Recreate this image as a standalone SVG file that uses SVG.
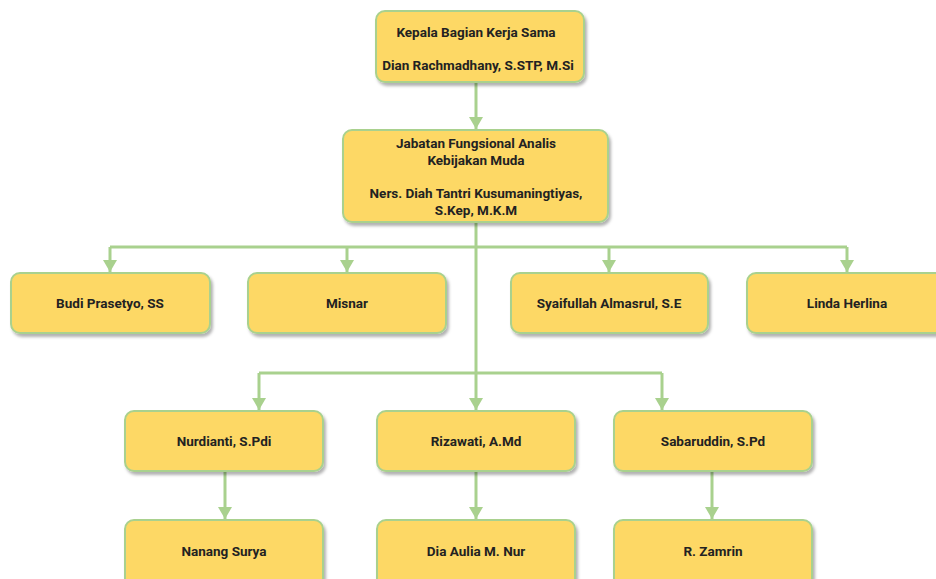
<svg xmlns="http://www.w3.org/2000/svg" width="936" height="579" viewBox="0 0 936 579">
<style>
.box{fill:#fdd865;stroke:#a9d18e;stroke-width:2;filter:url(#sh)}
.t{font-family:Roboto,"Liberation Sans",sans-serif;font-weight:bold;font-size:13.5px;fill:#222;text-anchor:middle}
.c{fill:none;stroke:#a9d18e;stroke-width:3}
</style>
<defs>
<filter id="sh" x="-10%" y="-10%" width="130%" height="140%">
<feDropShadow dx="2" dy="3" stdDeviation="1.5" flood-color="#000" flood-opacity="0.3"/>
</filter>
<marker id="ar" viewBox="0 0 12 14" refX="12" refY="7" markerWidth="12" markerHeight="14" markerUnits="userSpaceOnUse" orient="auto">
<path d="M0,0 L12,7 L0,14 z" fill="#a9d18e"/>
</marker>
</defs>
<rect width="936" height="579" fill="#fff"/>
<g id="connectors">
<path class="c" d="M476,82 V129" marker-end="url(#ar)"/>
<path class="c" d="M476,222 V373"/>
<path class="c" d="M110,247 H847"/>
<path class="c" d="M110,247 V272" marker-end="url(#ar)"/>
<path class="c" d="M347,247 V272" marker-end="url(#ar)"/>
<path class="c" d="M609,247 V272" marker-end="url(#ar)"/>
<path class="c" d="M847,247 V272" marker-end="url(#ar)"/>
<path class="c" d="M259,373 H662"/>
<path class="c" d="M259,373 V410" marker-end="url(#ar)"/>
<path class="c" d="M476,373 V410" marker-end="url(#ar)"/>
<path class="c" d="M662,373 V410" marker-end="url(#ar)"/>
<path class="c" d="M225,471 V519" marker-end="url(#ar)"/>
<path class="c" d="M476,471 V519" marker-end="url(#ar)"/>
<path class="c" d="M712,471 V519" marker-end="url(#ar)"/>
</g>
<g id="kepala"><rect class="box" x="376" y="11" width="208" height="71" rx="9"/>
<text class="t" x="476" y="37">Kepala Bagian Kerja Sama</text>
<text class="t" x="478" y="70">Dian Rachmadhany, S.STP, M.Si</text></g>
<g id="jabatan"><rect class="box" x="343" y="130" width="265" height="92" rx="9"/>
<text class="t" x="476" y="148">Jabatan Fungsional Analis</text>
<text class="t" x="476" y="165">Kebijakan Muda</text>
<text class="t" x="476" y="198">Ners. Diah Tantri Kusumaningtiyas,</text>
<text class="t" x="476" y="215">S.Kep, M.K.M</text></g>
<g id="budi"><rect class="box" x="11" y="273" width="199" height="60" rx="9"/>
<text class="t" x="110" y="308">Budi Prasetyo, SS</text></g>
<g id="misnar"><rect class="box" x="248" y="273" width="198" height="60" rx="9"/>
<text class="t" x="347" y="308">Misnar</text></g>
<g id="syaifullah"><rect class="box" x="511" y="273" width="197" height="60" rx="9"/>
<text class="t" x="609" y="308">Syaifullah Almasrul, S.E</text></g>
<g id="linda"><rect class="box" x="747" y="273" width="200" height="60" rx="9"/>
<text class="t" x="847" y="308">Linda Herlina</text></g>
<g id="nurdianti"><rect class="box" x="125" y="411" width="198" height="60" rx="9"/>
<text class="t" x="224" y="446">Nurdianti, S.Pdi</text></g>
<g id="rizawati"><rect class="box" x="377" y="411" width="198" height="60" rx="9"/>
<text class="t" x="476" y="446">Rizawati, A.Md</text></g>
<g id="sabaruddin"><rect class="box" x="614" y="411" width="198" height="60" rx="9"/>
<text class="t" x="713" y="446">Sabaruddin, S.Pd</text></g>
<g id="nanang"><rect class="box" x="125" y="520" width="198" height="68" rx="9"/>
<text class="t" x="224" y="556">Nanang Surya</text></g>
<g id="dia"><rect class="box" x="377" y="520" width="198" height="68" rx="9"/>
<text class="t" x="476" y="556">Dia Aulia M. Nur</text></g>
<g id="zamrin"><rect class="box" x="614" y="520" width="198" height="68" rx="9"/>
<text class="t" x="713" y="556">R. Zamrin</text></g>
</svg>
